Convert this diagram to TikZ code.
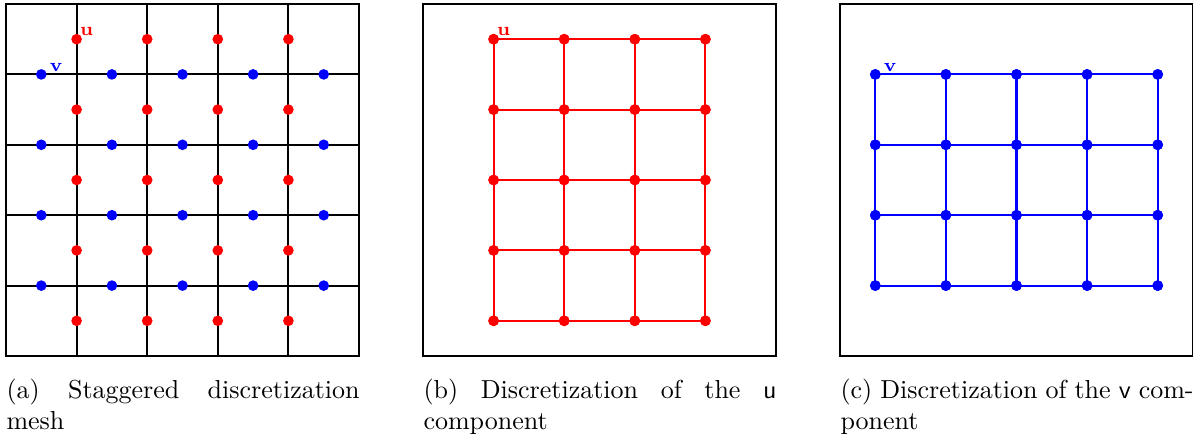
\documentclass[tikz,border=0pt]{standalone}
\begin{document}
\begin{tikzpicture}[x=0.3846pt,y=-0.3846pt,
  frame/.style={draw=black, line width=0.85pt},
  gridline/.style={draw=black, line width=0.8pt},
  uline/.style={draw=red, line width=0.8pt},
  vline/.style={draw=blue, line width=0.8pt},
  udot/.style={circle, fill=red, inner sep=0pt, minimum size=4.1pt},
  vdot/.style={circle, fill=blue, inner sep=0pt, minimum size=4.1pt},
  ulab/.style={text=red, font=\scriptsize\bfseries, inner sep=0pt, anchor=base west},
  vlab/.style={text=blue, font=\scriptsize\bfseries, inner sep=0pt, anchor=base west},
  captext/.style={text width=135.8pt, align=justify, inner sep=0pt, anchor=north west, font=\normalsize}
]
\useasboundingbox (0,0) rectangle (1193,436);

% ---------- (a) staggered mesh ----------
\draw[frame] (6,4) rectangle (359,356);
\foreach \i in {1,...,4} {
  \coordinate (at-\i) at ({6+70.6*\i},4);
  \coordinate (ab-\i) at ({6+70.6*\i},356);
  \draw[gridline] (at-\i) -- (ab-\i);
}
\foreach \j in {1,...,4} {
  \coordinate (al-\j) at (6,{4+70.4*\j});
  \coordinate (ar-\j) at (359,{4+70.4*\j});
  \draw[gridline] (al-\j) -- (ar-\j);
}
\foreach \i in {1,...,4} \foreach \j in {0,...,4}
  \node[udot] (au-\i-\j) at ({6+70.6*\i},{4+70.4*(\j+0.5)}) {};
\foreach \i in {0,...,4} \foreach \j in {1,...,4}
  \node[vdot] (av-\i-\j) at ({6+70.6*(\i+0.5)},{4+70.4*\j}) {};
\node[ulab] (aul) at ([shift={(3,-4)}]au-1-0.center) {u};
\node[vlab] (avl) at ([shift={(8,-3)}]av-0-1.center) {v};
\node[captext] (capa) at (6,378) {(a) Staggered discretization\linebreak mesh};

% ---------- (b) u component ----------
\draw[frame] (423,4) rectangle (776,356);
\foreach \i in {1,...,4} \foreach \j in {0,...,4}
  \node[udot] (bu-\i-\j) at ({423+70.6*\i},{4+70.4*(\j+0.5)}) {};
\foreach \j in {0,...,4}
  \draw[uline] (bu-1-\j.center) -- (bu-4-\j.center);
\foreach \i in {1,...,4}
  \draw[uline] (bu-\i-0.center) -- (bu-\i-4.center);
\foreach \i in {1,...,4} \foreach \j in {0,...,4}
  \node[udot] at (bu-\i-\j.center) {};
\node[ulab] (bul) at ([shift={(3,-4)}]bu-1-0.center) {u};
\node[captext] (capb) at (423,378) {(b) Discretization of the \textsf{u}\linebreak component};

% ---------- (c) v component ----------
\draw[frame] (840,4) rectangle (1193,356);
\foreach \i in {0,...,4} \foreach \j in {1,...,4}
  \node[vdot] (cv-\i-\j) at ({840+70.6*(\i+0.5)},{4+70.4*\j}) {};
\foreach \j in {1,...,4}
  \draw[vline] (cv-0-\j.center) -- (cv-4-\j.center);
\foreach \i in {0,...,4}
  \draw[vline] (cv-\i-1.center) -- (cv-\i-4.center);
\foreach \i in {0,...,4} \foreach \j in {1,...,4}
  \node[vdot] at (cv-\i-\j.center) {};
\node[vlab] (cvl) at ([shift={(8,-3)}]cv-0-1.center) {v};
\node[captext] (capc) at (840,378) {(c) Discretization of the \textsf{v} com-\linebreak ponent};
\end{tikzpicture}
\end{document}
